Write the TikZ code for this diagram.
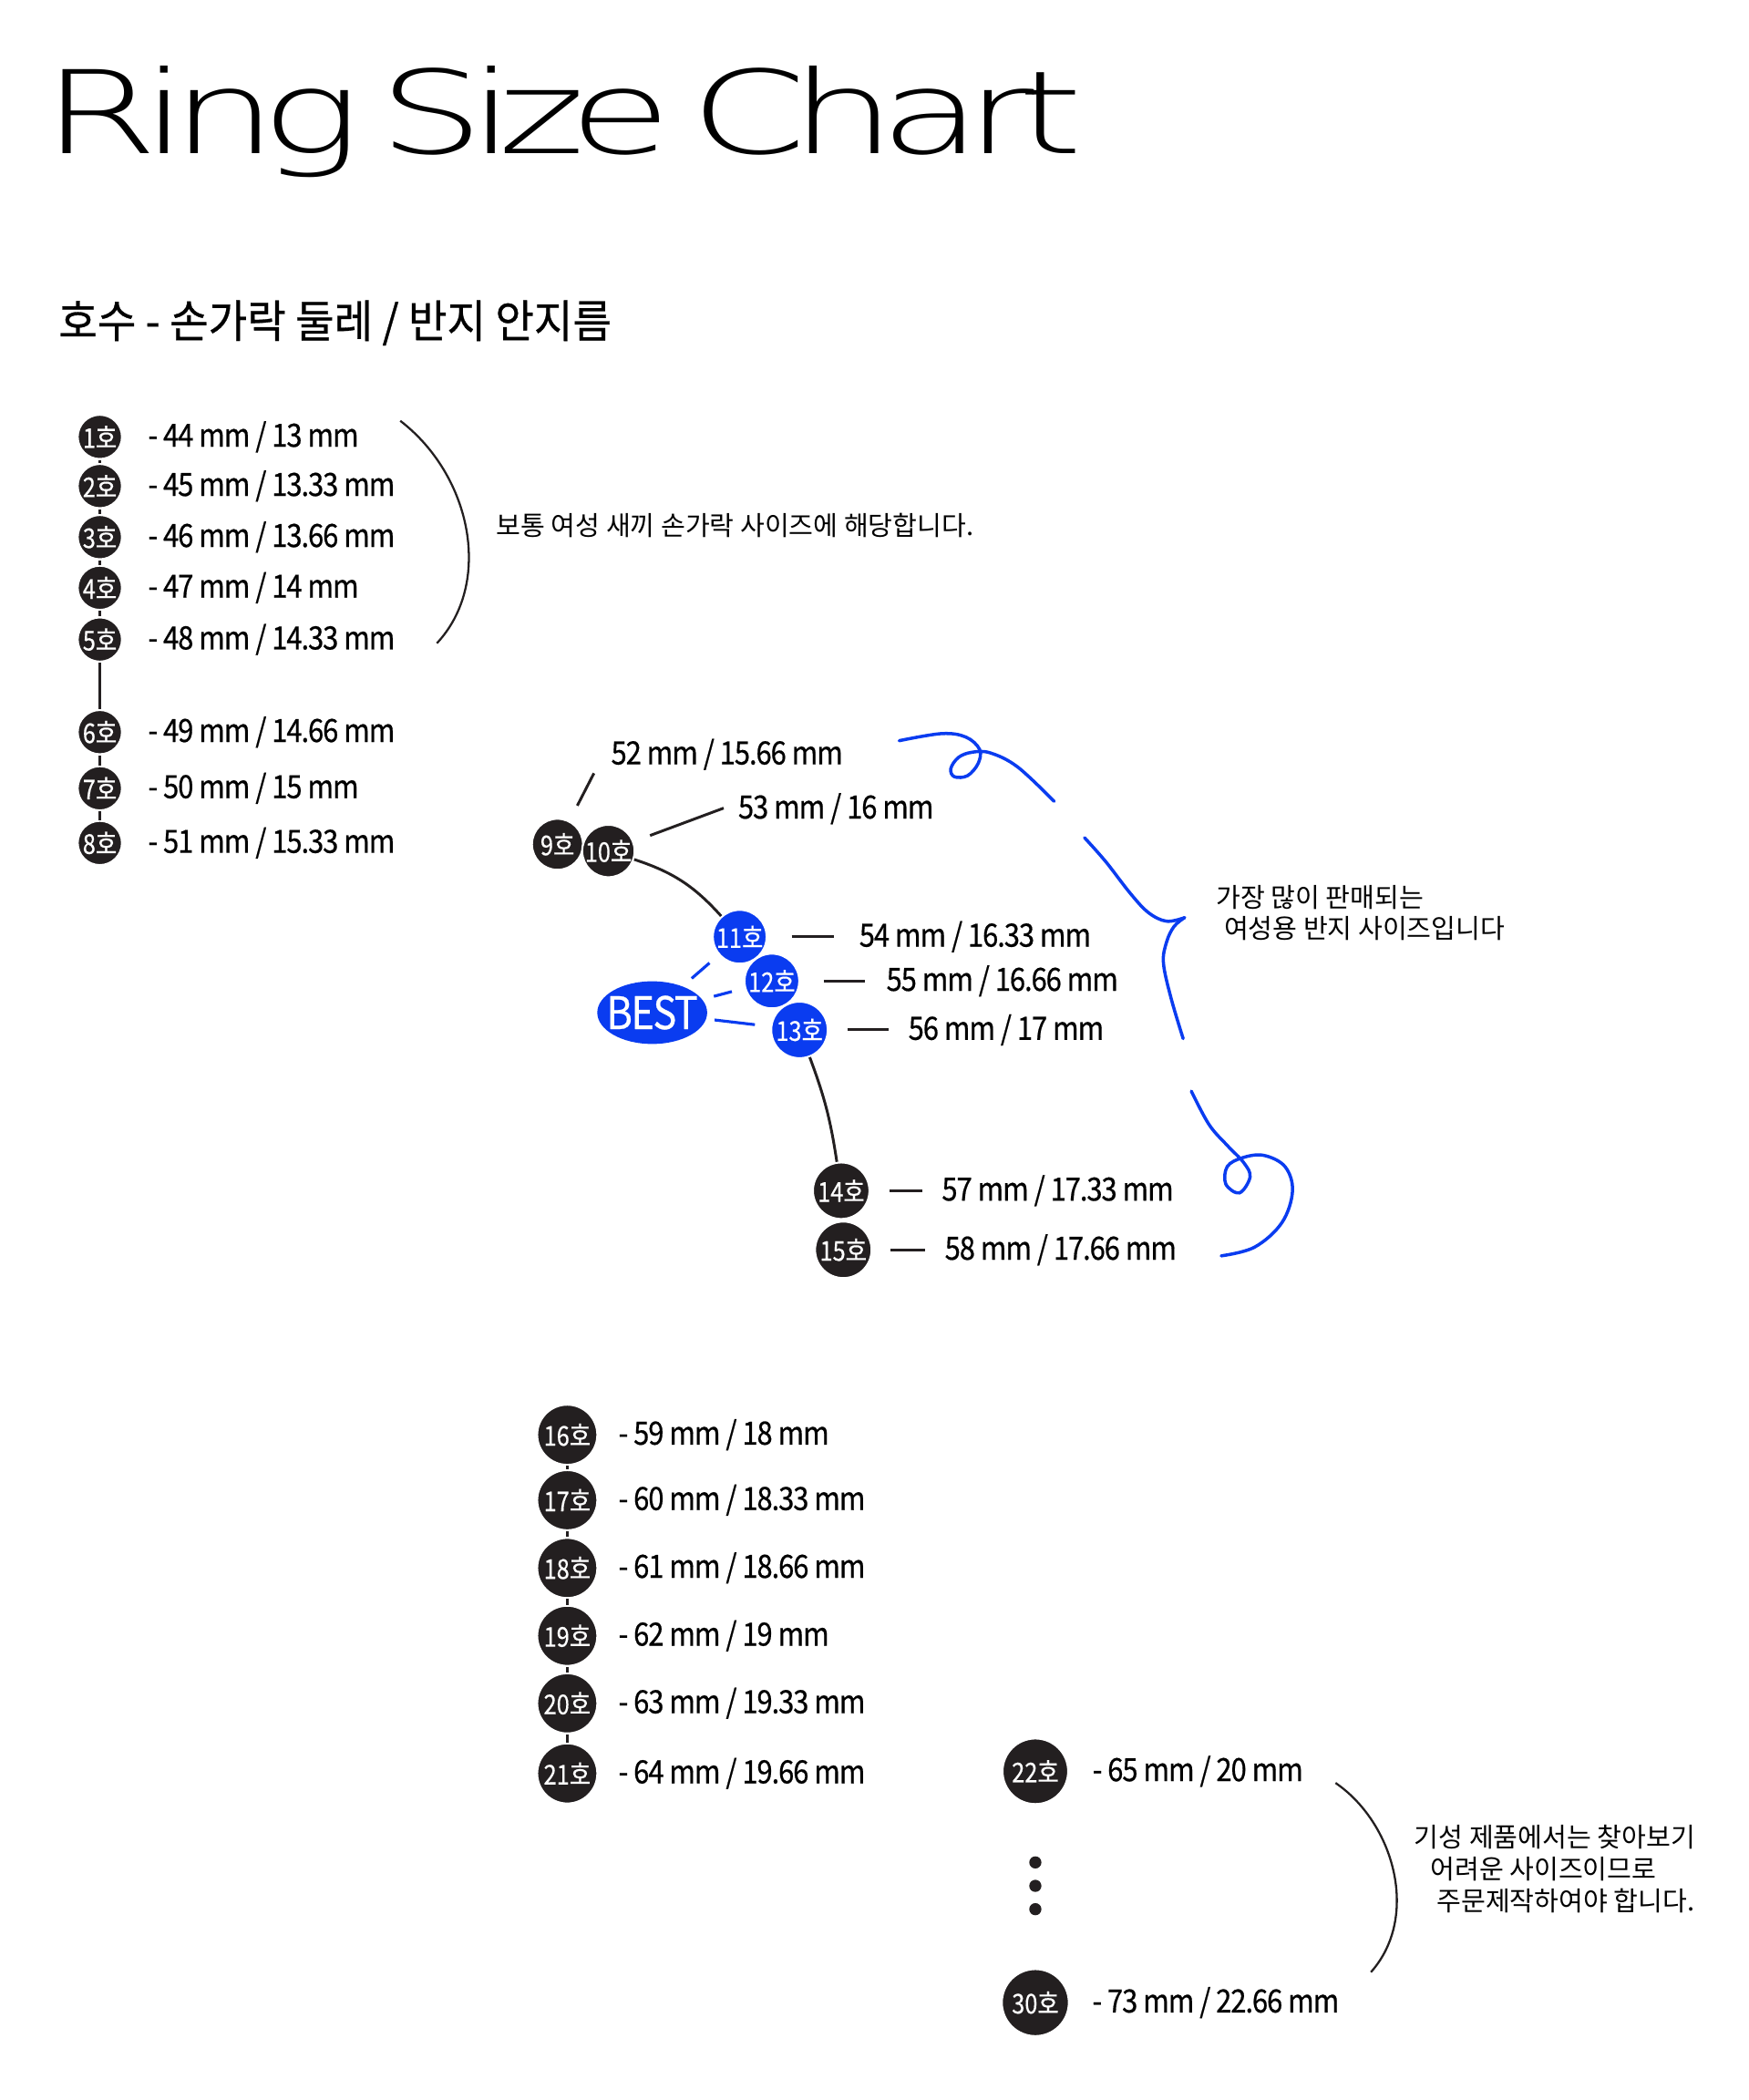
\documentclass[tikz,border=0pt]{standalone}
\usepackage{fontspec}
\setmainfont{Noto Sans CJK KR}
\newfontfamily\titlefont{DejaVu Sans ExtraLight}[LetterSpace=-10, WordSpace=0.5]
\newfontfamily\numfont{Noto Sans CJK KR}[FakeStretch=0.88, LetterSpace=-3, FakeBold=0.5]
\newfontfamily\hofont{Noto Sans CJK KR}[FakeStretch=0.85, FakeBold=0.4]
\newfontfamily\subfont{Noto Sans CJK KR}[FakeBold=0.6, FakeStretch=0.94]
\usepackage{tikz}
\usetikzlibrary{
  positioning,
  shapes.geometric
}
\definecolor{ink}{HTML}{231F20}
\definecolor{bestblue}{HTML}{0A3CF0}

\begin{document}
\begin{tikzpicture}[x=0.014705cm, y=-0.014705cm,
    hosu/.style={circle, fill=ink, draw=white, line width=0.6pt, text=white, inner sep=0pt, font=\hofont\fontsize{8.5}{9}\selectfont},
    best/.style={fill=bestblue},
    mmlabel/.style={inner sep=0pt, anchor=west, font=\numfont\fontsize{10}{11}\selectfont},
    note/.style={inner sep=0pt, anchor=west, align=left, font=\fontsize{8.3}{9.6}\selectfont},
    stemline/.style={ink, line width=0.85pt},
    bracket/.style={ink, line width=0.65pt},
    bestline/.style={bestblue, line width=0.9pt},
    curl/.style={bestblue, line width=1pt, line cap=round}]
\fill[white, use as bounding box] (0,0) rectangle (1305,1567);

% title
\node[anchor=base west, inner sep=0pt] (title) at (31,114.3) {\scalebox{1.45}[1]{\titlefont\fontsize{36}{36}\selectfont Ring Size Chart}};
\node[anchor=west, inner sep=0pt] (subtitle) at (43.3,241) {\subfont\fontsize{14}{14}\selectfont 호수 - 손가락 둘레 / 반지 안지름};

% 1-8
\foreach \n/\yy/\txt in {1/326/{44 mm / 13 mm}, 2/362.7/{45 mm / 13.33 mm}, 3/400.8/{46 mm / 13.66 mm}, 4/438.6/{47 mm / 14 mm}, 5/477.2/{48 mm / 14.33 mm}, 6/546.3/{49 mm / 14.66 mm}, 7/588.2/{50 mm / 15 mm}, 8/629/{51 mm / 15.33 mm}}{
  \node[hosu, minimum size=0.485cm] (c\n) at (74.5,\yy) {{\n}호};
  \node[mmlabel, right=0.27cm of c\n] (l\n) {-\,\txt};
}
\foreach \a/\b in {1/2,2/3,3/4,4/5,5/6,6/7,7/8}
  \draw[stemline] (c\a) -- (c\b);
\draw[bracket] (298.7,314) .. controls (352,355) and (368,435) .. (326,480);
\node[note] (smallnote) at (370,392) {보통 여성 새끼 손가락 사이즈에 해당합니다.};

% 9-15
\node[hosu, minimum size=0.56cm] (n9) at (416,630) {9호};
\node[hosu, minimum size=0.575cm] (n10) at (454,635) {10호};
\node[hosu, best, minimum size=0.59cm] (n11) at (552,699) {11호};
\node[hosu, best, minimum size=0.6cm] (n12) at (576,732) {12호};
\node[hosu, best, minimum size=0.62cm] (n13) at (596.6,768.5) {13호};
\node[hosu, minimum size=0.62cm] (n14) at (627.7,888.5) {14호};
\node[hosu, minimum size=0.62cm] (n15) at (629.3,932.6) {15호};
\node[ellipse, fill=bestblue, text=white, inner sep=0pt, minimum width=1.206cm, minimum height=0.688cm, font=\numfont\fontsize{14}{14}\selectfont] (best) at (486.7,755.6) {\makebox[0pt]{BEST}};

\node[mmlabel] (l9) at (455.6,563) {52 mm / 15.66 mm};
\node[mmlabel] (l10) at (550.4,603.4) {53 mm / 16 mm};
\node[mmlabel, right=1.0cm of n11] (l11) {54 mm / 16.33 mm};
\node[mmlabel, right=0.94cm of n12] (l12) {55 mm / 16.66 mm};
\node[mmlabel, right=0.868cm of n13] (l13) {56 mm / 17 mm};
\node[mmlabel, right=0.778cm of n14] (l14) {57 mm / 17.33 mm};
\node[mmlabel, right=0.787cm of n15] (l15) {58 mm / 17.66 mm};

\coordinate (a9) at (443.2,577);
\coordinate (a10) at (540,603);
\draw[stemline, shorten <=5.3pt] (n9) -- (a9);
\draw[stemline, shorten <=5.4pt] (n10) -- (a10);
\draw[stemline] (n10) to[bend left=15] (n11);
\draw[stemline] (n13) to[bend left=6] (n14);
\draw[stemline, shorten <=7.5pt, shorten >=7.6pt] (n11) -- (l11);
\draw[stemline, shorten <=7.4pt, shorten >=6.6pt] (n12) -- (l12);
\draw[stemline, shorten <=5.9pt, shorten >=5.9pt] (n13) -- (l13);
\draw[stemline, shorten <=5.9pt, shorten >=5.8pt] (n14) -- (l14);
\draw[stemline, shorten <=5.5pt, shorten >=6.1pt] (n15) -- (l15);
\draw[bestline, shorten <=3.6pt, shorten >=3.8pt] (best) -- (n11);
\draw[bestline, shorten <=3.6pt, shorten >=4.1pt] (best) -- (n12);
\draw[bestline, shorten <=2.5pt, shorten >=4.9pt] (best) -- (n13);

% blue brace
\draw[curl] plot[smooth, tension=0.6] coordinates {(671,552.7) (702.7,547.4) (720.8,550) (731,559.2) (729.9,569.7) (722,578.8) (712.2,579.6) (709.5,573.6) (715.2,565.2) (725.4,561.3) (739,561.8) (759.4,572.3) (786.6,597.9)};
\draw[curl] plot[smooth, tension=0.6] coordinates {(809.3,625.1) (825.1,642.9) (843.3,666.4) (856.9,680.9) (870.5,687.4) (884,684.7)};
\draw[curl] plot[smooth, tension=0.6] coordinates {(884,684.7) (876.1,691.3) (870.5,703) (868.2,718.7) (873.9,744.9) (882.9,775)};
\draw[curl] plot[smooth, tension=0.6] coordinates {(889,814.2) (902.2,839.1) (915.8,854.7) (928.3,867.8) (932.8,878.3) (924.9,890.1) (914.7,883.5) (915.8,870.5) (927.1,863.9) (943,862.1) (958.9,870.5) (964.5,888.7) (956.6,912.3) (936.2,930.6) (911.3,937.1)};
\node[note] (bestnote) at (907,681) {가장 많이 판매되는\\\hspace*{2.5pt}여성용 반지 사이즈입니다};

% 16-30
\foreach \n/\yy/\txt in {16/1070.6/{59 mm / 18 mm}, 17/1119.4/{60 mm / 18.33 mm}, 18/1170/{61 mm / 18.66 mm}, 19/1220.6/{62 mm / 19 mm}, 20/1271/{63 mm / 19.33 mm}, 21/1323.3/{64 mm / 19.66 mm}}{
  \node[hosu, minimum size=0.66cm] (c\n) at (423.3,\yy) {{\n}호};
  \node[mmlabel, right=0.215cm of c\n] (l\n) {-\,\txt};
}
\foreach \a/\b in {16/17,17/18,18/19,19/20,20/21}
  \draw[stemline] (c\a) -- (c\b);
\node[hosu, minimum size=0.72cm] (c22) at (772.6,1321.7) {22호};
\node[hosu, minimum size=0.735cm] (c30) at (772.6,1494.3) {30호};
\node[mmlabel, right=0.25cm of c22] (l22) {-\,65 mm / 20 mm};
\node[mmlabel, right=0.24cm of c30] (l30) {-\,73 mm / 22.66 mm};
\foreach \yy in {1389.7,1407.2,1424.6}
  \fill[ink] (772.6,\yy) circle[radius=1.9pt];
\draw[bracket] (996.6,1330.4) .. controls (1040,1360) and (1060,1430) .. (1023,1471.6);
\node[note, font=\fontsize{8.3}{9.9}\selectfont] (ordernote) at (1055,1394.7) {기성 제품에서는 찾아보기\\\hspace*{5pt}어려운 사이즈이므로\\\hspace*{7pt}주문제작하여야 합니다.};
\end{tikzpicture}
\end{document}
